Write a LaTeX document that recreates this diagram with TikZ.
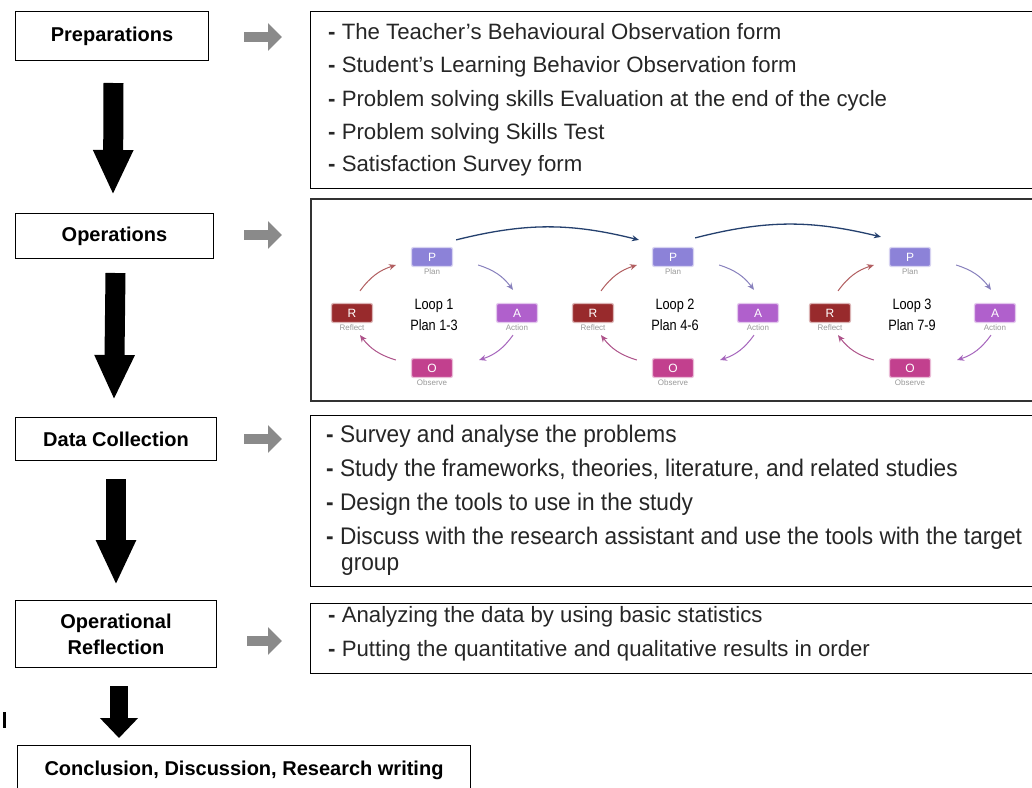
\documentclass[tikz,border=0pt]{standalone}
\usepackage{fontspec}
\setmainfont{Liberation Sans}
\usetikzlibrary{arrows.meta,calc}
\definecolor{pc}{HTML}{8C82D8}
\definecolor{ac}{HTML}{B060CC}
\definecolor{oc}{HTML}{C2408E}
\definecolor{rc}{HTML}{982A2C}
\definecolor{navy}{HTML}{24406E}
\definecolor{garrow}{HTML}{8A8A8A}
\tikzset{
  leftbox/.style={draw, line width=1pt, font=\fontsize{20}{26}\selectfont\bfseries, align=center, inner sep=0pt, anchor=north west},
  rightbox/.style={draw, line width=1pt, inner sep=0pt, anchor=north west},
  item/.style={anchor=west, inner sep=0pt, text=black!85, font=\fontsize{22.2}{22}\selectfont},
  itemn/.style={anchor=west, inner sep=0pt, text=black!85, font=\fontsize{24}{24}\selectfont\addfontfeature{FakeStretch=0.945}},
  downarrow/.style={line width=20pt, -{Triangle[width=37pt,length=45pt]}},
  grayarrow/.style={draw=garrow, line width=10pt, -{Triangle[width=27pt,length=14pt]}, color=garrow},
  lbox/.style={rounded corners=2pt, minimum width=41pt, minimum height=19pt, text=white, font=\fontsize{12}{12}\selectfont, inner sep=0pt, draw=#1!35, line width=1.2pt, fill=#1},
  lbl/.style={text=gray!80, font=\fontsize{8}{8}\selectfont, inner sep=0pt},
  looptxt/.style={align=center, font=\fontsize{15}{21}\selectfont\addfontfeature{FakeStretch=0.85}, inner sep=0pt},
  cyc/.style={line width=1pt, -{Stealth[length=7pt,width=6pt]}},
  jump/.style={draw=navy, line width=1.3pt, -{Stealth[length=7pt,width=6pt]}}
}
\begin{document}
\begin{tikzpicture}[x=1pt,y=-1pt]
\clip (0,0) rectangle (1032,787);
\fill[white] (0,0) rectangle (1032,787);
% left column
\node[leftbox, minimum width=193pt, minimum height=49pt] (prep) at (15,11) {Preparations};
\node[leftbox, minimum width=198pt, minimum height=45pt] (oper) at (15,213) {Operations};
\node[leftbox, minimum width=201pt, minimum height=43pt] (data) at (15,417) {Data Collection};
\node[leftbox, minimum width=201pt, minimum height=67pt] (refl) at (15,600) {Operational\\Reflection};
\node[leftbox, minimum width=453pt, minimum height=60pt] (concl) at (17,745) {};
\node[anchor=center, inner sep=0pt, font=\fontsize{20}{24}\selectfont\bfseries] (concltxt) at (244,770) {Conclusion, Discussion, Research writing};
\fill (3,712) rectangle (6,728);
% black arrows
\draw[downarrow] ($(prep.south)+(1.5,22)$) -- ($(oper.north)+(-1.5,-18)$);
\draw[downarrow] ($(oper.south)+(1,14)$) -- ($(data.north)+(-2,-17)$);
\draw[downarrow] ($(data.south)+(0,18)$) -- ($(refl.north)+(0,-15)$);
\draw[line width=18pt, -{Triangle[width=37pt,length=20pt]}] ($(refl.south)+(3,18)$) -- ($(refl.south |- concl.north)+(3,-7)$);
% right boxes
\node[rightbox, minimum width=740pt, minimum height=177pt] (box1) at (310,11) {};
\node[rightbox, line width=2pt, draw=black!80, minimum width=740pt, minimum height=202pt] (box2) at (310,198) {};
\node[rightbox, minimum width=740pt, minimum height=171pt] (box3) at (310,415) {};
\node[rightbox, minimum width=740pt, minimum height=70pt] (box4) at (310,603) {};
% gray arrows
\draw[grayarrow] ($(prep.east)+(35,1)$) -- ($(box1.west |- prep.east)+(-28,1)$);
\draw[grayarrow] ($(oper.east)+(30,-1)$) -- ($(box2.west |- oper.east)+(-28,-1)$);
\draw[grayarrow] ($(data.east)+(27,0)$) -- ($(box3.west |- data.east)+(-28,0)$);
\draw[grayarrow] ($(refl.east)+(30,7)$) -- ($(box4.west |- refl.east)+(-28,7)$);
% box 1 text
\node[item] (t11) at (328,32) {{\bfseries -} The Teacher's Behavioural Observation form};
\node[item] (t12) at (328,67) {{\bfseries -} Student's Learning Behavior Observation form};
\node[item] (t13) at (328,101) {{\bfseries -} Problem solving skills Evaluation at the end of the cycle};
\node[item] (t14) at (328,134) {{\bfseries -} Problem solving Skills Test};
\node[item] (t15) at (328,166) {{\bfseries -} Satisfaction Survey form};
% box 3 text
\node[itemn] (t31) at (326,436) {{\bfseries -} Survey and analyse the problems};
\node[itemn] (t32) at (326,470) {{\bfseries -} Study the frameworks, theories, literature, and related studies};
\node[itemn] (t33) at (326,504) {{\bfseries -} Design the tools to use in the study};
\node[itemn] (t34) at (326,538) {{\bfseries -} Discuss with the research assistant and use the tools with the target};
\node[itemn] (t35) at (341,567) {group};
% box 4 text
\node[item] (t41) at (328,617) {{\bfseries -} Analyzing the data by using basic statistics};
\node[item] (t42) at (328,651) {{\bfseries -} Putting the quantitative and qualitative results in order};
% loops
\foreach \i/\cx/\a/\b in {1/432/1/3, 2/673/4/6, 3/910/7/9} {
  \node[lbox=pc] (p\i) at (\cx,257) {P};
  \node[lbox=ac] (a\i) at (\cx+85,313) {A};
  \node[lbox=oc] (o\i) at (\cx,368) {O};
  \node[lbox=rc] (r\i) at (\cx-80,313) {R};
  \node[lbl, below=1pt] (pl\i) at (p\i.south) {Plan};
  \node[lbl, below=1pt] (al\i) at (a\i.south) {Action};
  \node[lbl, below=1pt] (ol\i) at (o\i.south) {Observe};
  \node[lbl, below=1pt] (rl\i) at (r\i.south) {Reflect};
  \node[looptxt] (lt\i) at (\cx+2,315) {Loop \i\\Plan \a-\b};
  \draw[cyc, draw=rc!75!white, color=rc!75!white] ($(r\i.north)+(8,-12)$) to[bend left=18] ($(p\i.west)+(-15,8)$);
  \draw[cyc, draw=pc!70!gray, color=pc!70!gray] ($(p\i.east)+(25,8)$) to[bend left=18] ($(a\i.north)+(-4,-13)$);
  \draw[cyc, draw=ac!80!gray, color=ac!80!gray] ($(a\i.south)+(-4,12)$) to[bend left=18] ($(o\i.east)+(26,-8)$);
  \draw[cyc, draw=oc!70!gray, color=oc!70!gray] ($(o\i.west)+(-15,-8)$) to[bend left=18] ($(r\i.south)+(8,12)$);
}
\draw[jump, color=navy] ($(p1.north east)+(3,-7)$) to[bend left=14] ($(p2.north west)+(-13,-7)$);
\draw[jump, color=navy] ($(p2.north east)+(1,-9)$) to[bend left=14] ($(p3.north west)+(-8,-10)$);
\end{tikzpicture}
\end{document}
